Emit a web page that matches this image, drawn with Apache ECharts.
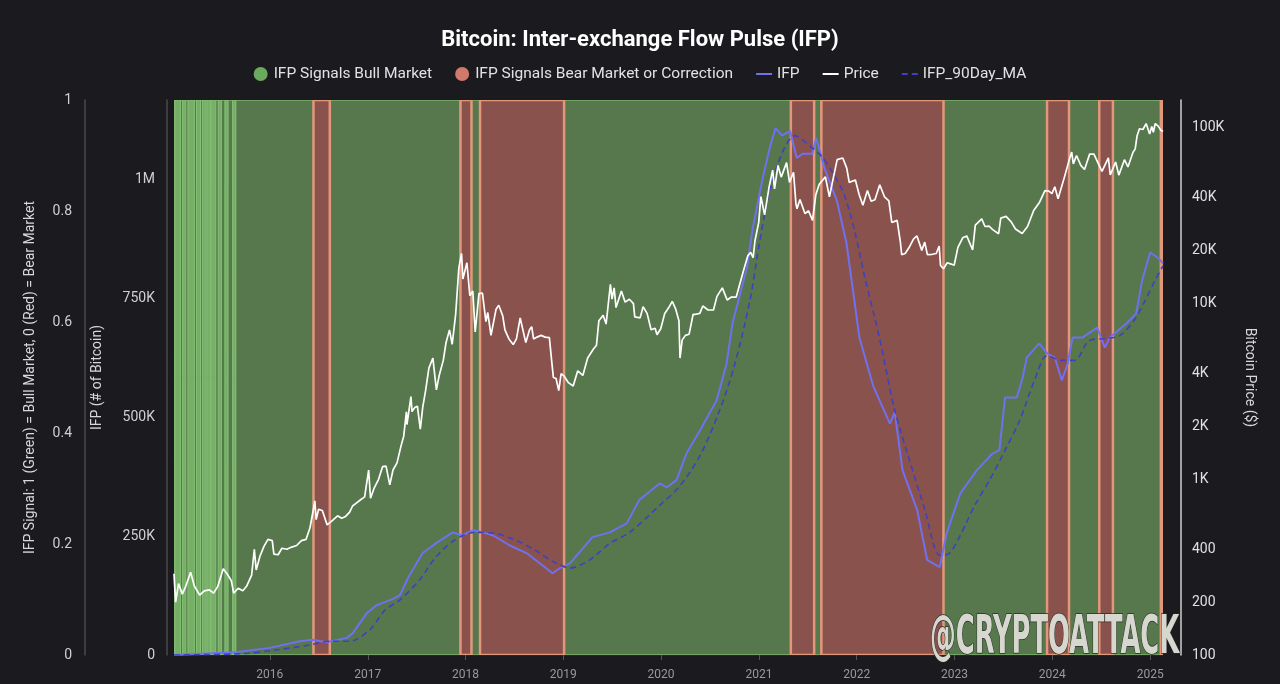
<!DOCTYPE html>
<html>
<head>
<meta charset="utf-8">
<script src="https://cdn.jsdelivr.net/npm/echarts@6/dist/echarts.min.js"></script>
<style>
  html, body { margin: 0; padding: 0; background: #1b1a1f; }
  #main { width: 1280px; height: 684px; }
</style>
</head>
<body>
<div id="main"></div>
<script>
// signal periods (start, end)
const bullPeriods = [
  ['2015-01-08', '2016-06-12'], ['2016-08-12', '2017-12-13'], ['2018-01-23', '2018-02-24'],
  ['2019-01-04', '2021-04-30'], ['2021-07-26', '2021-08-22'], ['2022-11-21', '2023-12-13'],
  ['2024-03-04', '2024-06-25'], ['2024-08-15', '2025-02-10']
];
// early 2015 short bull flips, drawn lighter
const bullFlickers = [
  ['2015-01-11', '2015-02-01'], ['2015-02-09', '2015-02-21'], ['2015-03-01', '2015-03-25'],
  ['2015-04-02', '2015-04-17'], ['2015-04-24', '2015-05-07'], ['2015-05-11', '2015-05-24'],
  ['2015-05-29', '2015-06-13'], ['2015-06-22', '2015-07-04'], ['2015-07-17', '2015-07-29'],
  ['2015-08-15', '2015-08-27']
];
const bearPeriods = [
  ['2016-06-12', '2016-08-12'], ['2017-12-13', '2018-01-23'], ['2018-02-24', '2019-01-04'],
  ['2021-04-30', '2021-07-26'], ['2021-08-22', '2022-11-21'], ['2023-12-13', '2024-03-04'],
  ['2024-06-25', '2024-08-15'], ['2025-02-10', '2025-02-18']
];

const ifpValues = [
  ['2015-01-08', 0], ['2015-08-25', 6000], ['2016-01-01', 15000], ['2016-04-22', 29000],
  ['2016-06-10', 32000], ['2016-07-31', 27000], ['2016-10-15', 36000], ['2016-11-06', 46000],
  ['2016-12-28', 88000], ['2017-02-03', 105000], ['2017-04-06', 118000], ['2017-05-01', 126000],
  ['2017-05-31', 162000], ['2017-07-24', 214000], ['2017-09-17', 237000], ['2017-11-14', 258000],
  ['2017-12-20', 252000], ['2018-01-30', 263000], ['2018-04-13', 252000], ['2018-06-14', 231000],
  ['2018-08-18', 214000], ['2018-10-05', 193000], ['2018-11-22', 172000], ['2018-12-20', 183000],
  ['2019-01-26', 193000], ['2019-04-20', 248000], ['2019-06-24', 258000], ['2019-08-26', 277000],
  ['2019-10-12', 326000], ['2019-12-27', 361000], ['2020-01-23', 353000], ['2020-02-28', 368000],
  ['2020-04-05', 424000], ['2020-05-26', 473000], ['2020-07-27', 536000], ['2020-09-02', 613000],
  ['2020-09-24', 698000], ['2020-11-17', 815000], ['2020-12-09', 899000], ['2021-01-15', 1004000],
  ['2021-02-10', 1067000], ['2021-03-04', 1109000], ['2021-03-28', 1093000], ['2021-04-27', 1103000],
  ['2021-05-22', 1046000], ['2021-06-13', 1055000], ['2021-07-19', 1055000], ['2021-08-03', 1088000],
  ['2021-09-02', 1025000], ['2021-10-19', 956000], ['2021-11-24', 866000], ['2021-12-13', 788000],
  ['2022-01-11', 668000], ['2022-03-03', 567000], ['2022-05-05', 487000], ['2022-05-23', 511000],
  ['2022-06-21', 389000], ['2022-08-15', 305000], ['2022-09-21', 200000], ['2022-11-07', 185000],
  ['2022-12-03', 256000], ['2023-01-23', 340000], ['2023-03-26', 389000], ['2023-05-23', 424000],
  ['2023-06-18', 431000], ['2023-07-09', 542000], ['2023-08-22', 542000], ['2023-09-13', 584000],
  ['2023-09-28', 626000], ['2023-11-14', 656000], ['2023-12-13', 635000], ['2024-01-11', 626000],
  ['2024-02-06', 578000], ['2024-02-28', 613000], ['2024-03-17', 668000], ['2024-04-23', 668000],
  ['2024-06-17', 689000], ['2024-07-16', 647000], ['2024-08-03', 668000], ['2024-10-05', 698000],
  ['2024-11-10', 719000], ['2024-12-02', 788000], ['2025-01-01', 847000], ['2025-01-30', 836000],
  ['2025-02-18', 824000]
];

const ifpMaValues = [
  ['2015-01-08', 0], ['2015-10-01', 3000], ['2016-01-15', 10000], ['2016-05-29', 21000],
  ['2016-08-11', 29000], ['2016-10-26', 29000], ['2017-01-08', 53000], ['2017-03-07', 95000],
  ['2017-05-01', 116000], ['2017-07-13', 158000], ['2017-09-09', 204000], ['2017-11-21', 242000],
  ['2018-02-06', 258000], ['2018-04-20', 256000], ['2018-07-05', 242000], ['2018-09-17', 221000],
  ['2018-11-29', 195000], ['2019-01-26', 183000], ['2019-04-09', 200000], ['2019-06-24', 235000],
  ['2019-09-06', 258000], ['2019-12-27', 315000], ['2020-03-10', 355000], ['2020-05-26', 420000],
  ['2020-08-07', 515000], ['2020-10-01', 609000], ['2020-11-28', 746000], ['2021-01-04', 872000],
  ['2021-02-10', 977000], ['2021-04-01', 1061000], ['2021-05-15', 1093000], ['2021-07-08', 1072000],
  ['2021-08-22', 1050000], ['2021-10-11', 1008000], ['2021-11-17', 966000], ['2021-12-24', 893000],
  ['2022-01-30', 798000], ['2022-03-29', 662000], ['2022-05-23', 515000], ['2022-07-17', 410000],
  ['2022-09-13', 305000], ['2022-11-07', 210000], ['2022-12-13', 214000], ['2023-01-23', 252000],
  ['2023-03-18', 315000], ['2023-05-12', 368000], ['2023-07-09', 431000], ['2023-09-02', 494000],
  ['2023-10-27', 578000], ['2023-12-13', 630000], ['2024-02-06', 620000], ['2024-03-25', 620000],
  ['2024-05-19', 662000], ['2024-07-16', 666000], ['2024-09-09', 672000], ['2024-11-02', 704000],
  ['2024-12-13', 746000], ['2025-01-19', 788000], ['2025-02-18', 819000]
];

const priceValues = [
  ['2015-01-08', 290], ['2015-01-14', 200], ['2015-01-25', 255], ['2015-02-08', 222], ['2015-02-20', 244],
  ['2015-03-11', 296], ['2015-03-25', 247], ['2015-04-14', 219], ['2015-05-01', 232], ['2015-05-20', 235],
  ['2015-06-05', 225], ['2015-06-20', 245], ['2015-07-11', 310], ['2015-07-25', 290], ['2015-08-10', 265],
  ['2015-08-19', 225], ['2015-09-05', 240], ['2015-09-22', 232], ['2015-10-06', 246], ['2015-10-25', 285],
  ['2015-11-04', 400], ['2015-11-11', 305], ['2015-11-25', 365], ['2015-12-10', 415], ['2015-12-25', 455],
  ['2016-01-10', 448], ['2016-01-16', 375], ['2016-02-01', 372], ['2016-02-15', 405], ['2016-03-05', 400],
  ['2016-03-20', 410], ['2016-04-10', 420], ['2016-04-28', 448], ['2016-05-15', 455], ['2016-05-30', 530],
  ['2016-06-12', 680], ['2016-06-17', 755], ['2016-06-22', 590], ['2016-07-01', 675], ['2016-07-15', 665],
  ['2016-08-02', 550], ['2016-08-20', 580], ['2016-09-10', 620], ['2016-09-25', 600], ['2016-10-10', 615],
  ['2016-10-25', 650], ['2016-11-05', 705], ['2016-11-20', 735], ['2016-12-05', 765], ['2016-12-20', 795],
  ['2017-01-04', 1130], ['2017-01-11', 780], ['2017-01-25', 895], ['2017-02-10', 1000], ['2017-02-25', 1180],
  ['2017-03-10', 1190], ['2017-03-24', 930], ['2017-04-05', 1130], ['2017-04-20', 1240], ['2017-05-05', 1550],
  ['2017-05-15', 1760], ['2017-05-25', 2420], ['2017-05-27', 2050], ['2017-06-11', 2960], ['2017-06-15', 2430],
  ['2017-06-25', 2560], ['2017-07-05', 2610], ['2017-07-16', 1930], ['2017-07-25', 2570], ['2017-08-05', 3220],
  ['2017-08-17', 4300], ['2017-09-01', 4900], ['2017-09-14', 3230], ['2017-09-25', 3930], ['2017-10-10', 4770],
  ['2017-10-20', 5990], ['2017-11-02', 7090], ['2017-11-12', 5860], ['2017-11-25', 8700], ['2017-12-07', 16000],
  ['2017-12-17', 19300], ['2017-12-22', 13800], ['2018-01-06', 17100], ['2018-01-17', 11100], ['2018-01-28', 11800],
  ['2018-02-06', 6900], ['2018-02-20', 11400], ['2018-03-05', 11500], ['2018-03-18', 7900], ['2018-03-25', 8900],
  ['2018-04-06', 6600], ['2018-04-25', 9300], ['2018-05-05', 9800], ['2018-05-20', 8500], ['2018-05-28', 7100],
  ['2018-06-12', 6300], ['2018-06-28', 5850], ['2018-07-10', 6300], ['2018-07-24', 8300], ['2018-08-14', 6000],
  ['2018-08-28', 7100], ['2018-09-05', 7400], ['2018-09-12', 6300], ['2018-09-25', 6450], ['2018-10-10', 6600],
  ['2018-10-25', 6450], ['2018-11-10', 6400], ['2018-11-20', 4500], ['2018-11-25', 3800], ['2018-12-05', 3750],
  ['2018-12-15', 3200], ['2018-12-24', 4000], ['2019-01-05', 3850], ['2019-01-20', 3550], ['2019-02-07', 3400],
  ['2019-02-24', 4150], ['2019-03-15', 3900], ['2019-04-02', 4900], ['2019-04-23', 5500], ['2019-05-05', 5800],
  ['2019-05-14', 8000], ['2019-05-30', 8600], ['2019-06-10', 7650], ['2019-06-26', 12900], ['2019-07-02', 10600],
  ['2019-07-10', 12300], ['2019-07-17', 9500], ['2019-08-06', 11800], ['2019-08-20', 10200], ['2019-09-05', 10600],
  ['2019-09-20', 10000], ['2019-09-25', 8400], ['2019-10-15', 8300], ['2019-10-26', 9600], ['2019-11-10', 8800],
  ['2019-11-25', 7100], ['2019-12-10', 7250], ['2019-12-17', 6650], ['2019-12-31', 7200], ['2020-01-15', 8800],
  ['2020-01-30', 9500], ['2020-02-12', 10300], ['2020-02-25', 9300], ['2020-03-08', 8000], ['2020-03-12', 4900],
  ['2020-03-20', 6200], ['2020-04-01', 6600], ['2020-04-15', 6700], ['2020-04-30', 8700], ['2020-05-10', 8700],
  ['2020-05-25', 8800], ['2020-06-05', 9700], ['2020-06-25', 9200], ['2020-07-15', 9200], ['2020-07-28', 11000],
  ['2020-08-17', 12300], ['2020-09-04', 10500], ['2020-09-20', 10900], ['2020-10-08', 10900], ['2020-10-21', 12900],
  ['2020-11-05', 15600], ['2020-11-20', 18700], ['2020-12-01', 19600], ['2020-12-10', 18300], ['2020-12-17', 22800],
  ['2020-12-31', 29000], ['2021-01-08', 40700], ['2021-01-22', 32000], ['2021-02-08', 46400], ['2021-02-21', 57500],
  ['2021-02-28', 45000], ['2021-03-13', 61200], ['2021-03-25', 52500], ['2021-04-14', 63500], ['2021-04-25', 49000],
  ['2021-05-10', 56000], ['2021-05-19', 37000], ['2021-05-23', 34700], ['2021-06-03', 39200], ['2021-06-22', 32500],
  ['2021-07-05', 33800], ['2021-07-20', 29800], ['2021-08-01', 41500], ['2021-08-14', 47800], ['2021-09-06', 52700],
  ['2021-09-21', 40500], ['2021-10-01', 48100], ['2021-10-20', 66000], ['2021-11-10', 67500], ['2021-11-25', 58900],
  ['2021-12-04', 49000], ['2021-12-27', 50600], ['2022-01-10', 41800], ['2022-01-24', 36300], ['2022-02-10', 44000],
  ['2022-02-24', 38300], ['2022-03-10', 39000], ['2022-03-28', 47500], ['2022-04-15', 40500], ['2022-05-01', 38500],
  ['2022-05-12', 29000], ['2022-06-01', 29800], ['2022-06-13', 22500], ['2022-06-18', 19000], ['2022-07-01', 19300],
  ['2022-07-15', 20800], ['2022-08-01', 23300], ['2022-08-14', 24300], ['2022-09-01', 20100], ['2022-09-12', 22400],
  ['2022-09-22', 19000], ['2022-10-10', 19100], ['2022-10-25', 19300], ['2022-11-05', 21300], ['2022-11-10', 16500],
  ['2022-11-21', 15800], ['2022-12-05', 17100], ['2022-12-20', 16800], ['2022-12-31', 16550], ['2023-01-14', 20900],
  ['2023-02-01', 23700], ['2023-02-16', 24300], ['2023-03-10', 20200], ['2023-03-20', 28000], ['2023-04-13', 30400],
  ['2023-04-25', 27500], ['2023-05-10', 27600], ['2023-05-25', 26300], ['2023-06-15', 25000], ['2023-06-23', 30700],
  ['2023-07-13', 31400], ['2023-08-01', 29200], ['2023-08-17', 26600], ['2023-09-11', 25100], ['2023-10-01', 27500],
  ['2023-10-24', 33900], ['2023-11-15', 37800], ['2023-12-05', 44000], ['2023-12-20', 43700], ['2023-12-31', 42300],
  ['2024-01-11', 46300], ['2024-01-23', 39500], ['2024-02-15', 52000], ['2024-03-05', 66000], ['2024-03-14', 73000],
  ['2024-03-20', 62500], ['2024-04-01', 69700], ['2024-04-17', 61300], ['2024-05-01', 58000], ['2024-05-20', 71000],
  ['2024-06-05', 71000], ['2024-06-25', 61000], ['2024-07-05', 56700], ['2024-07-29', 67500], ['2024-08-05', 54000],
  ['2024-08-25', 64000], ['2024-09-06', 53900], ['2024-09-27', 66000], ['2024-10-10', 60000], ['2024-10-29', 72700],
  ['2024-11-06', 75800], ['2024-11-13', 90000], ['2024-11-22', 99000], ['2024-12-05', 98000], ['2024-12-17', 106000],
  ['2024-12-30', 92500], ['2025-01-07', 102000], ['2025-01-13', 94500], ['2025-01-20', 106000], ['2025-01-31', 102500],
  ['2025-02-10', 97000], ['2025-02-18', 95500]
];

const yearTicks = ['2016-01-01', '2017-01-01', '2018-01-01', '2019-01-01', '2020-01-01',
                   '2021-01-01', '2022-01-01', '2023-01-01', '2024-01-01', '2025-01-01'];
const priceTicks = [100, 200, 400, 1000, 2000, 4000, 10000, 20000, 40000, 100000];

var chart = echarts.init(document.getElementById('main'));
const ts = s => echarts.time.parse(s).getTime();

function bandSeries(name, periods, fill, stroke, lw, legendColor) {
  return {
    name: name,
    type: 'custom',
    xAxisIndex: 0,
    yAxisIndex: 0,
    clip: true,
    z: 1,
    itemStyle: { color: legendColor },
    encode: { x: [0, 1] },
    data: periods.map(p => [ts(p[0]), ts(p[1])]),
    renderItem: function (params, api) {
      var p0 = api.coord([api.value(0), 1]);
      var p1 = api.coord([api.value(1), 0]);
      return {
        type: 'rect',
        shape: { x: p0[0], y: p0[1], width: p1[0] - p0[0], height: p1[1] - p0[1] },
        style: { fill: fill, stroke: stroke, lineWidth: lw }
      };
    }
  };
}

var bull = bandSeries('IFP Signals Bull Market', bullPeriods, '#56784c', '#7db26c', 1.5, '#6aaa5e');
var flick = bandSeries('IFP Signals Bull Market', bullFlickers, '#75af66', '#86c077', 1, '#6aaa5e');
var bear = bandSeries('IFP Signals Bear Market or Correction', bearPeriods, '#8a524c', '#e2967a', 2.5, '#cf7a6c');

// legend glyphs for lines
const solidIcon = 'path://M0,0L8,0L8,1L0,1Z';
const dashIcon = 'path://M0,0L3,0L3,1L0,1Z M5,0L8,0L8,1L5,1Z';

var option = {
  backgroundColor: '#1b1a1f',
  textStyle: { fontFamily: 'Roboto' },
  title: {
    text: 'Bitcoin: Inter-exchange Flow Pulse (IFP)',
    left: 'center',
    top: 24,
    textStyle: { color: '#ffffff', fontSize: 22, fontWeight: 'bold', fontFamily: 'Roboto' }
  },
  legend: {
    top: 61,
    left: 'center',
    itemGap: 23,
    itemWidth: 16,
    itemHeight: 14,
    symbolKeepAspect: true,
    textStyle: { color: '#e2e2e2', fontSize: 15.5 },
    data: [
      { name: 'IFP Signals Bull Market', icon: 'circle' },
      { name: 'IFP Signals Bear Market or Correction', icon: 'circle' },
      { name: 'IFP', icon: solidIcon },
      { name: 'Price', icon: solidIcon },
      { name: 'IFP_90Day_MA', icon: dashIcon }
    ]
  },
  grid: { left: 174, right: 117, top: 100, bottom: 29 },
  xAxis: {
    type: 'value',
    min: ts('2015-01-08'),
    max: ts('2025-02-18'),
    axisLine: { show: false },
    axisTick: { show: true, length: 5, lineStyle: { color: '#55555c' }, customValues: yearTicks.map(ts) },
    splitLine: { show: false },
    axisLabel: {
      color: '#9a9a9a', fontSize: 12, margin: 14,
      customValues: yearTicks.map(ts),
      formatter: v => String(new Date(v).getFullYear())
    }
  },
  yAxis: [
    {
      type: 'value', position: 'left', offset: 89, min: 0, max: 1, interval: 0.2,
      name: 'IFP Signal: 1 (Green) = Bull Market, 0 (Red) = Bear Market',
      nameLocation: 'middle', nameGap: 48,
      nameTextStyle: { color: '#d8d8d8', fontSize: 14 },
      axisLine: { show: true, lineStyle: { color: '#48484f', width: 1.5 } },
      axisTick: { show: false },
      splitLine: { show: false },
      axisLabel: { color: '#d0d0d0', fontSize: 14, margin: 13 }
    },
    {
      type: 'value', position: 'left', offset: 7, min: 0, max: 1168000, interval: 250000,
      name: 'IFP (# of Bitcoin)',
      nameLocation: 'middle', nameGap: 63,
      nameTextStyle: { color: '#d8d8d8', fontSize: 14 },
      axisLine: { show: true, lineStyle: { color: '#48484f', width: 1.5 } },
      axisTick: { show: false },
      splitLine: { show: false },
      axisLabel: {
        color: '#d0d0d0', fontSize: 14, margin: 12, showMaxLabel: false,
        formatter: v => v === 0 ? '0' : (v >= 1e6 ? v / 1e6 + 'M' : v / 1000 + 'K')
      }
    },
    {
      type: 'log', logBase: 10, position: 'right', offset: 18, min: 100, max: 144300,
      name: 'Bitcoin Price ($)',
      nameLocation: 'middle', nameGap: 61, nameRotate: -90,
      nameTextStyle: { color: '#d8d8d8', fontSize: 14 },
      axisLine: { show: true, lineStyle: { color: '#cfcfcf', width: 1.5 } },
      axisTick: { show: false, customValues: priceTicks },
      splitLine: { show: true, lineStyle: { color: 'rgba(255,255,255,0.05)' } },
      axisLabel: {
        color: '#e0e0e0', fontSize: 14, margin: 11,
        customValues: priceTicks,
        formatter: v => v >= 1000 ? Math.round(v / 1000) + 'K' : String(Math.round(v))
      }
    }
  ],
  graphic: [
    {
      type: 'text', left: 540, top: 358, silent: true,
      style: { text: 'CryptoQuant', fill: 'rgba(255,255,255,0.06)', font: '40px Roboto' }
    },
    {
      type: 'text', x: 930, y: 612, scaleX: 0.53, silent: true, z: 100,
      style: {
        text: '@CRYPTOATTACK', fill: '#d6d8cf',
        font: 'bold 54px "Liberation Sans Narrow", "DejaVu Sans Condensed", sans-serif',
        stroke: '#2a2a2a', lineWidth: 1.5,
        shadowColor: 'rgba(0,0,0,0.85)', shadowBlur: 3, shadowOffsetX: 2, shadowOffsetY: 3
      }
    }
  ],
  series: [
    bull, flick, bear,
    {
      name: 'IFP', type: 'line', xAxisIndex: 0, yAxisIndex: 1, z: 3,
      showSymbol: false, symbol: 'none',
      lineStyle: { color: '#7070f0', width: 2 },
      itemStyle: { color: '#7070f0' },
      data: ifpValues.map(d => [ts(d[0]), d[1]])
    },
    {
      name: 'Price', type: 'line', xAxisIndex: 0, yAxisIndex: 2, z: 4,
      showSymbol: false, symbol: 'none',
      lineStyle: { color: '#ffffff', width: 1.7 },
      itemStyle: { color: '#ffffff' },
      data: priceValues.map(d => [ts(d[0]), d[1]])
    },
    {
      name: 'IFP_90Day_MA', type: 'line', xAxisIndex: 0, yAxisIndex: 1, z: 3,
      showSymbol: false, symbol: 'none', smooth: 0.3,
      lineStyle: { color: '#4040c0', width: 1.6, type: [6, 4] },
      itemStyle: { color: '#4040c0' },
      data: ifpMaValues.map(d => [ts(d[0]), d[1]])
    }
  ]
};
chart.setOption(option);
</script>
</body>
</html>
